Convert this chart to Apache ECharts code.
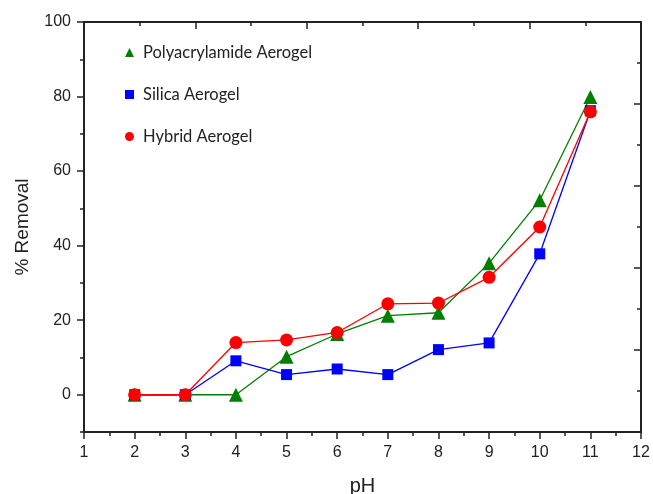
<!DOCTYPE html>
<html>
<head>
<meta charset="utf-8">
<script src="https://cdn.jsdelivr.net/npm/echarts@6/dist/echarts.min.js"></script>
<style>html,body{margin:0;padding:0;background:#fff}#c{width:653px;height:494px}</style>
</head>
<body>
<div id="c"></div>
<script>
const pH = [2, 3, 4, 5, 6, 7, 8, 9, 10, 11];
const polyacrylamide = [0, 0, 0, 10.2, 16.3, 21.2, 22.0, 35.3, 52.2, 79.9];
const silica = [0, 0, 9.1, 5.4, 6.9, 5.4, 12.1, 13.9, 37.8, 76.2];
const hybrid = [0, 0, 14.0, 14.7, 16.7, 24.4, 24.6, 31.5, 45.0, 75.9];
const xTicks = [1, 2, 3, 4, 5, 6, 7, 8, 9, 10, 11, 12];
const yTicks = [0, 20, 40, 60, 80, 100];
const yMinorTicks = [-10, 10, 30, 50, 70, 90];
const seriesNames = ['Polyacrylamide Aerogel', 'Silica Aerogel', 'Hybrid Aerogel'];

const axisColor = '#222';
const sans = '"Liberation Sans", Arial, Helvetica, sans-serif';
const chart = echarts.init(document.getElementById('c'), null, {renderer: 'canvas'});
const pair = arr => pH.map((x, i) => [x, arr[i]]);

chart.setOption({
  animation: false,
  backgroundColor: '#fff',
  grid: {left: 84, right: 12, top: 22, bottom: 62, containLabel: false, outerBoundsMode: 'none'},
  legend: {
    orient: 'vertical', left: 120, top: 39, itemGap: 25,
    itemWidth: 9, itemHeight: 9,
    textStyle: {fontFamily: 'Lato', fontSize: 16.5, color: '#222', padding: [0, 0, 0, 4]},
    data: [
      {name: seriesNames[0], icon: 'triangle'},
      {name: seriesNames[1], icon: 'rect'},
      {name: seriesNames[2], icon: 'circle'}
    ]
  },
  xAxis: [
    {
      type: 'value', min: 1, max: 12, interval: 1, position: 'bottom',
      name: 'pH', nameLocation: 'middle', nameGap: 44,
      nameTextStyle: {fontFamily: sans, fontSize: 20, color: '#222'},
      axisLine: {show: true, onZero: false, lineStyle: {color: axisColor, width: 2}},
      axisTick: {show: true, inside: false, length: 7, lineStyle: {color: axisColor, width: 1.5}},
      minorTick: {show: true, splitNumber: 2, length: 4, lineStyle: {color: axisColor, width: 1.5}},
      axisLabel: {fontFamily: sans, fontSize: 16, color: '#222', margin: 13},
      splitLine: {show: false}
    },
    {
      type: 'value', min: 0, max: 10, interval: 2, position: 'top',
      axisLine: {show: true, onZero: false, lineStyle: {color: axisColor, width: 2}},
      axisTick: {show: true, inside: true, length: 7, lineStyle: {color: axisColor, width: 1.5}},
      minorTick: {show: true, splitNumber: 2, length: 4, lineStyle: {color: axisColor, width: 1.5}},
      axisLabel: {show: false}, splitLine: {show: false}
    }
  ],
  yAxis: [
    {
      type: 'value', min: -10, max: 100, interval: 10, position: 'left',
      name: '% Removal', nameLocation: 'middle', nameGap: 52, nameRotate: 90,
      nameTextStyle: {fontFamily: sans, fontSize: 19, color: '#222'},
      axisLine: {show: true, onZero: false, lineStyle: {color: axisColor, width: 2}},
      axisTick: {show: true, inside: false, length: 7, customValues: yTicks, lineStyle: {color: axisColor, width: 1.5}},
      axisLabel: {fontFamily: sans, fontSize: 16, color: '#222', margin: 13, customValues: yTicks},
      splitLine: {show: false}
    },
    {
      type: 'value', min: 0, max: 10, interval: 2, position: 'right',
      axisLine: {show: true, onZero: false, lineStyle: {color: axisColor, width: 2}},
      axisTick: {show: true, inside: true, length: 7, lineStyle: {color: axisColor, width: 1.5}},
      minorTick: {show: true, splitNumber: 2, length: 4, lineStyle: {color: axisColor, width: 1.5}},
      axisLabel: {show: false}, splitLine: {show: false}
    },
    {
      type: 'value', min: -10, max: 100, interval: 10, position: 'left', offset: 0,
      axisLine: {show: false},
      axisTick: {show: true, inside: false, length: 4, customValues: yMinorTicks, lineStyle: {color: axisColor, width: 1.5}},
      axisLabel: {show: false}, splitLine: {show: false}
    }
  ],
  series: [
    {
      name: seriesNames[0], type: 'line', xAxisIndex: 0, yAxisIndex: 0,
      data: pair(polyacrylamide), symbol: 'triangle', symbolSize: 14,
      itemStyle: {color: '#007f00'}, lineStyle: {color: '#007f00', width: 1.3}, z: 2
    },
    {
      name: seriesNames[1], type: 'line', xAxisIndex: 0, yAxisIndex: 0,
      data: pair(silica), symbol: 'rect', symbolSize: 11,
      itemStyle: {color: '#0000ff'}, lineStyle: {color: '#0000ff', width: 1.3}, z: 3
    },
    {
      name: seriesNames[2], type: 'line', xAxisIndex: 0, yAxisIndex: 0,
      data: pair(hybrid), symbol: 'circle', symbolSize: 13,
      itemStyle: {color: '#ff0000'}, lineStyle: {color: '#ff0000', width: 1.3}, z: 4
    }
  ]
});
</script>
</body>
</html>
